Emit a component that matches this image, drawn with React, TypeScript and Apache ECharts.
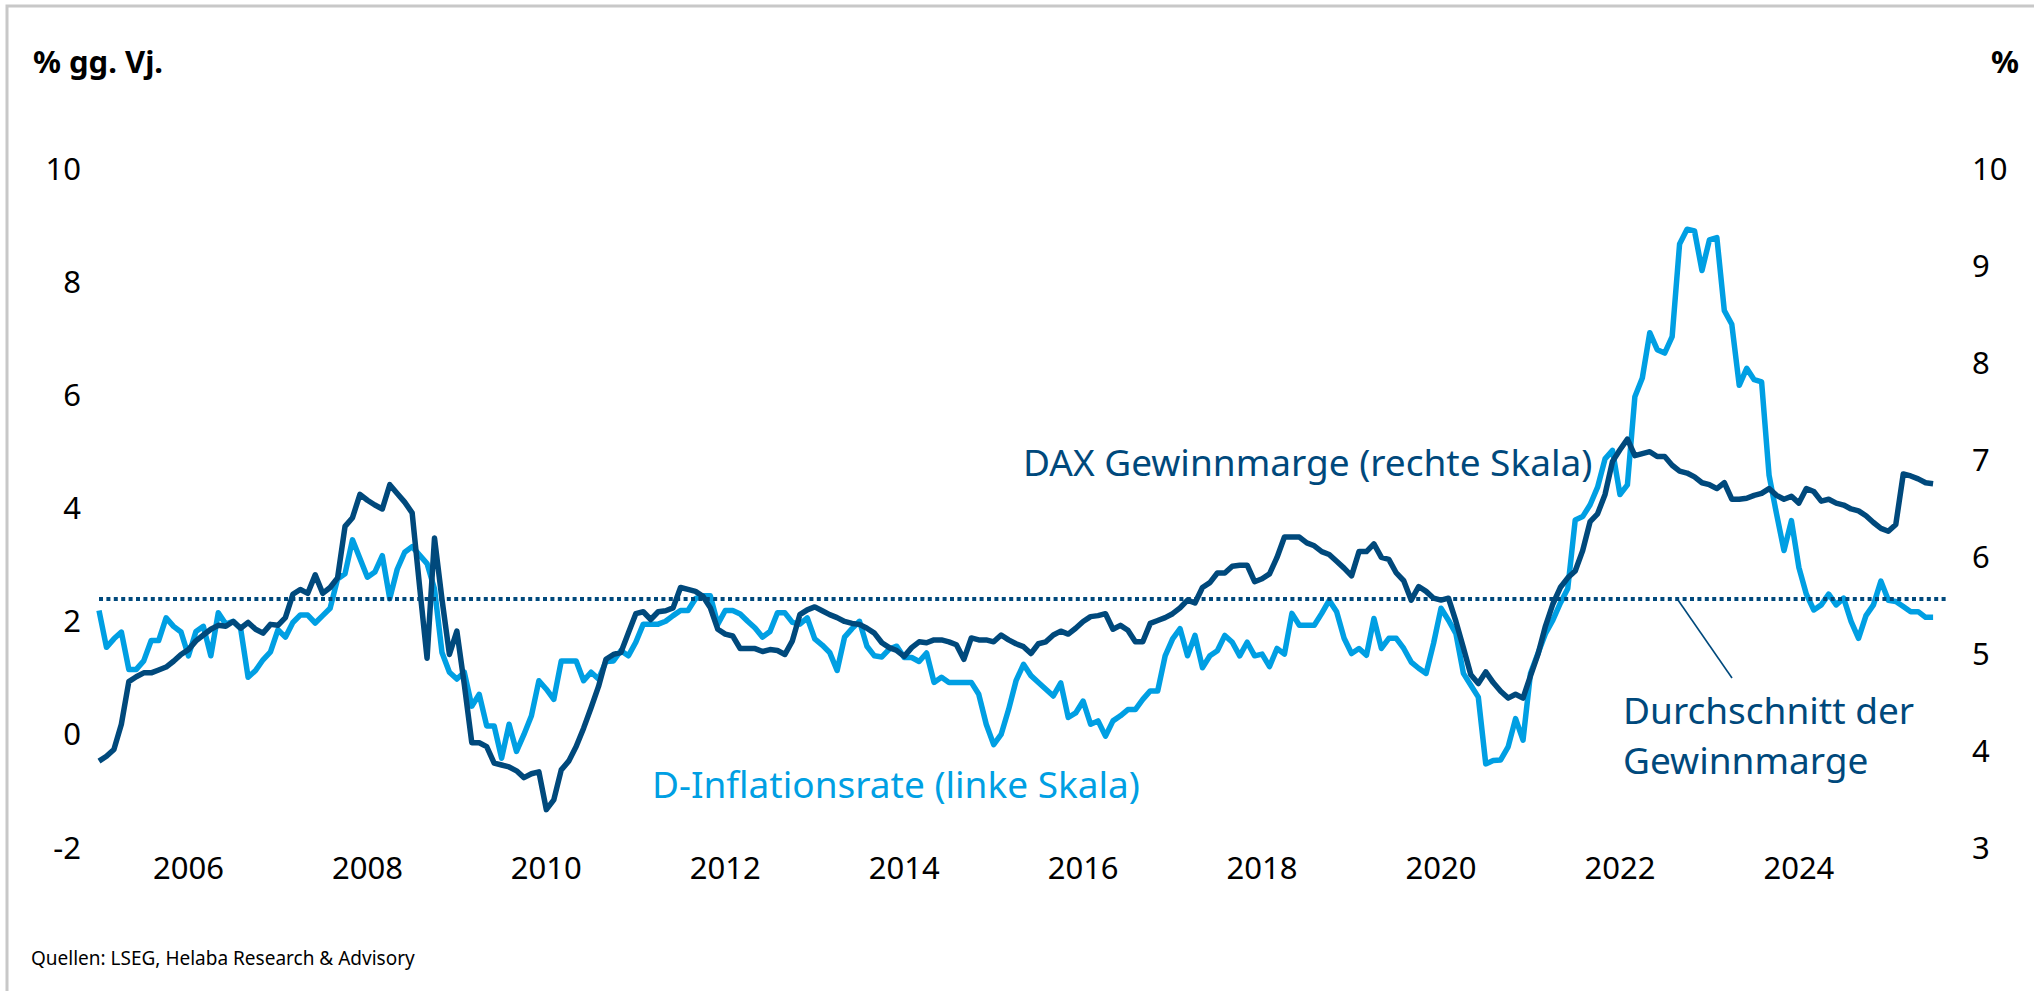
import React, { useEffect, useRef } from "react";
import * as echarts from "echarts";

// ---- Data (monthly, Jan 2005 – Jul 2025) ----
const startYear = 2005;
const categoryCount = 249; // Jan 2005 .. Sep 2025 (axis extends slightly past the data)

// D-Inflationsrate, % gg. Vj. (left scale)
const inflation2005to2009 = [
  2.17, 1.52, 1.67, 1.79, 1.13, 1.13, 1.28, 1.64, 1.64, 2.04, 1.89, 1.79,
  1.37, 1.8, 1.89, 1.37, 2.13, 1.93, 1.98, 1.85, 0.99, 1.11, 1.3, 1.44,
  1.83, 1.7, 1.96, 2.09, 2.09, 1.95, 2.08, 2.21, 2.73, 2.82, 3.42, 3.09,
  2.76, 2.85, 3.14, 2.38, 2.9, 3.2, 3.3, 3.15, 3.0, 2.55, 1.43, 1.08,
  0.96, 1.08, 0.48, 0.69, 0.13, 0.13, -0.44, 0.16, -0.32, -0.02, 0.31, 0.93,
];
const inflation2010to2014 = [
  0.78, 0.6, 1.28, 1.28, 1.28, 0.93, 1.08, 0.96, 1.27, 1.28, 1.46, 1.37,
  1.61, 1.93, 1.93, 1.93, 1.98, 2.08, 2.17, 2.17, 2.38, 2.43, 2.43, 1.93,
  2.17, 2.17, 2.11, 1.98, 1.86, 1.7, 1.8, 2.13, 2.13, 1.96, 1.93, 2.04,
  1.67, 1.56, 1.43, 1.11, 1.7, 1.85, 1.98, 1.54, 1.37, 1.35, 1.49, 1.54,
  1.34, 1.34, 1.27, 1.42, 0.9, 0.99, 0.9, 0.9, 0.9, 0.9, 0.69, 0.16,
];
const inflation2015to2019 = [
  -0.2, -0.02, 0.42, 0.93, 1.22, 1.02, 0.9, 0.78, 0.66, 0.89, 0.28, 0.36,
  0.57, 0.16, 0.22, -0.05, 0.22, 0.31, 0.42, 0.42, 0.6, 0.75, 0.75, 1.37,
  1.67, 1.85, 1.37, 1.73, 1.16, 1.37, 1.46, 1.73, 1.61, 1.37, 1.61, 1.37,
  1.4, 1.18, 1.5, 1.4, 2.12, 1.91, 1.91, 1.91, 2.12, 2.35, 2.15, 1.68,
  1.41, 1.5, 1.38, 2.03, 1.5, 1.68, 1.68, 1.5, 1.26, 1.15, 1.06, 1.59,
];
const inflation2020to2025 = [
  2.21, 2.0, 1.76, 1.06, 0.85, 0.64, -0.54, -0.48, -0.47, -0.24, 0.26, -0.12,
  1.06, 1.41, 1.76, 2.0, 2.3, 2.56, 3.77, 3.83, 4.04, 4.35, 4.85, 5.0,
  4.22, 4.39, 5.95, 6.28, 7.08, 6.78, 6.72, 7.01, 8.65, 8.91, 8.88, 8.18,
  8.72, 8.76, 7.47, 7.23, 6.15, 6.45, 6.25, 6.21, 4.56, 3.88, 3.23, 3.76,
  2.93, 2.46, 2.18, 2.27, 2.46, 2.27, 2.39, 1.98, 1.68, 2.08, 2.27, 2.69,
  2.35, 2.33, 2.24, 2.15, 2.15, 2.05, 2.05,
];

// DAX Gewinnmarge, % (right scale)
const margin2005to2009 = [
  3.88, 3.93, 4.0, 4.26, 4.7, 4.75, 4.79, 4.79, 4.82, 4.85, 4.91, 4.98,
  5.03, 5.12, 5.18, 5.24, 5.28, 5.27, 5.32, 5.25, 5.31, 5.24, 5.2, 5.29,
  5.28, 5.36, 5.6, 5.65, 5.61, 5.8, 5.61, 5.67, 5.77, 6.3, 6.39, 6.63,
  6.57, 6.52, 6.48, 6.73, 6.64, 6.55, 6.44, 5.68, 4.94, 6.18, 5.55, 4.98,
  5.22, 4.67, 4.07, 4.07, 4.03, 3.86, 3.84, 3.82, 3.78, 3.71, 3.75, 3.77,
];
const margin2010to2014 = [
  3.38, 3.48, 3.79, 3.88, 4.03, 4.22, 4.43, 4.65, 4.93, 4.98, 5.0, 5.2,
  5.4, 5.42, 5.34, 5.42, 5.43, 5.46, 5.67, 5.65, 5.63, 5.58, 5.46, 5.24,
  5.19, 5.17, 5.04, 5.04, 5.04, 5.01, 5.03, 5.02, 4.98, 5.12, 5.39, 5.44,
  5.47, 5.43, 5.39, 5.36, 5.32, 5.3, 5.29, 5.25, 5.2, 5.1, 5.05, 5.02,
  4.96, 5.05, 5.11, 5.1, 5.13, 5.13, 5.11, 5.08, 4.93, 5.15, 5.13, 5.13,
];
const margin2015to2019 = [
  5.11, 5.18, 5.13, 5.09, 5.06, 4.99, 5.09, 5.11, 5.18, 5.22, 5.19, 5.25,
  5.32, 5.37, 5.38, 5.4, 5.24, 5.28, 5.23, 5.11, 5.11, 5.3, 5.33, 5.36,
  5.4, 5.46, 5.54, 5.51, 5.67, 5.72, 5.82, 5.82, 5.89, 5.9, 5.9, 5.73,
  5.76, 5.81, 5.98, 6.19, 6.19, 6.19, 6.13, 6.1, 6.04, 6.01, 5.94, 5.87,
  5.79, 6.04, 6.04, 6.12, 5.98, 5.96, 5.82, 5.74, 5.54, 5.68, 5.63, 5.56,
];
const margin2020to2025 = [
  5.54, 5.56, 5.32, 5.05, 4.77, 4.68, 4.8, 4.69, 4.6, 4.53, 4.57, 4.53,
  4.76, 4.98, 5.27, 5.5, 5.67, 5.77, 5.84, 6.05, 6.35, 6.43, 6.63, 6.97,
  7.09, 7.2, 7.03, 7.05, 7.07, 7.02, 7.02, 6.93, 6.87, 6.85, 6.81, 6.75,
  6.73, 6.69, 6.75, 6.58, 6.58, 6.59, 6.62, 6.64, 6.69, 6.62, 6.58, 6.61,
  6.54, 6.69, 6.66, 6.56, 6.58, 6.54, 6.52, 6.48, 6.46, 6.41, 6.34, 6.28,
  6.25, 6.32, 6.84, 6.82, 6.79, 6.75, 6.74,
];

// Average of the profit margin (dotted line, right scale)
const averageMargin = 5.55;

// Axis ticks
const leftAxis = { min: -2, max: 10, interval: 2 };
const rightAxis = { min: 3, max: 10, interval: 1 };

// Texts
const leftUnit = "% gg. Vj.";
const rightUnit = "%";
const marginLabel = "DAX Gewinnmarge (rechte Skala)";
const inflationLabel = "D-Inflationsrate (linke Skala)";
const averageLabelLines = ["Durchschnitt der", "Gewinnmarge"];
const sourceText = "Quellen: LSEG, Helaba Research & Advisory";

const inflation = [
  ...inflation2005to2009,
  ...inflation2010to2014,
  ...inflation2015to2019,
  ...inflation2020to2025,
];
const profitMargin = [
  ...margin2005to2009,
  ...margin2010to2014,
  ...margin2015to2019,
  ...margin2020to2025,
];

const months: string[] = [];
for (let k = 0; k < categoryCount; k++) {
  const y = startYear + Math.floor(k / 12);
  const m = (k % 12) + 1;
  months.push(`${y}-${m < 10 ? "0" + m : m}`);
}

const DARK = "#00497c";
const LIGHT = "#009fe3";
const FONT = "Noto Sans";

export default function App() {
  const ref = useRef<HTMLDivElement>(null);

  useEffect(() => {
    if (!ref.current) return;
    const chart = echarts.init(ref.current, null, { renderer: "svg" });

    const option: any = {
      animation: false,
      backgroundColor: "#ffffff",
      grid: { left: 99, top: 167.5, width: 1849, height: 679, containLabel: false },
      xAxis: {
        type: "category",
        data: months,
        boundaryGap: false,
        axisLine: { show: false },
        axisTick: { show: false },
        splitLine: { show: false },
        axisLabel: {
          interval: (_i: number, v: string) =>
            v.endsWith("-01") && Number(v.slice(0, 4)) % 2 === 0,
          formatter: (v: string) => v.slice(0, 4),
          fontFamily: FONT,
          fontSize: 31,
          color: "#000",
          margin: 5,
        },
      },
      yAxis: [
        {
          type: "value",
          position: "left",
          ...leftAxis,
          axisLine: { show: false },
          axisTick: { show: false },
          splitLine: { show: false },
          axisLabel: { fontFamily: FONT, fontSize: 31, color: "#000", margin: 18 },
        },
        {
          type: "value",
          position: "right",
          ...rightAxis,
          axisLine: { show: false },
          axisTick: { show: false },
          splitLine: { show: false },
          axisLabel: { fontFamily: FONT, fontSize: 31, color: "#000", margin: 24 },
        },
      ],
      series: [
        {
          name: "D-Inflationsrate",
          type: "line",
          yAxisIndex: 0,
          data: inflation,
          symbol: "none",
          lineStyle: { color: LIGHT, width: 5.5, join: "round" },
          z: 2,
        },
        {
          name: "DAX Gewinnmarge",
          type: "line",
          yAxisIndex: 1,
          data: profitMargin,
          symbol: "none",
          lineStyle: { color: DARK, width: 5.5, join: "round" },
          z: 3,
          markLine: {
            silent: true,
            symbol: ["none", "none"],
            label: { show: false },
            lineStyle: { color: DARK, width: 4, type: [4, 3.4] },
            data: [{ yAxis: averageMargin }],
          },
        },
      ],
      graphic: [
        {
          type: "rect",
          silent: true,
          z: -10,
          shape: { x: 7, y: 6, width: 2300, height: 1300 },
          style: { fill: "none", stroke: "#c8c8c8", lineWidth: 3 },
        },
        {
          type: "text",
          x: 33,
          y: 61,
          style: {
            text: leftUnit,
            fontFamily: FONT,
            fontWeight: "bold",
            fontSize: 31,
            fill: "#000",
            textAlign: "left",
            textVerticalAlign: "middle",
          },
        },
        {
          type: "text",
          x: 2019,
          y: 61,
          style: {
            text: rightUnit,
            fontFamily: FONT,
            fontWeight: "bold",
            fontSize: 31,
            fill: "#000",
            textAlign: "right",
            textVerticalAlign: "middle",
          },
        },
        {
          type: "text",
          x: 1023,
          y: 461,
          style: {
            text: marginLabel,
            fontFamily: FONT,
            fontSize: 37,
            fill: DARK,
            textAlign: "left",
            textVerticalAlign: "middle",
          },
        },
        {
          type: "text",
          x: 652,
          y: 783,
          style: {
            text: inflationLabel,
            fontFamily: FONT,
            fontSize: 37,
            fill: LIGHT,
            textAlign: "left",
            textVerticalAlign: "middle",
          },
        },
        {
          type: "text",
          x: 1623,
          y: 709.5,
          style: {
            text: averageLabelLines[0],
            fontFamily: FONT,
            fontSize: 37,
            fill: DARK,
            textAlign: "left",
            textVerticalAlign: "middle",
          },
        },
        {
          type: "text",
          x: 1623,
          y: 759.5,
          style: {
            text: averageLabelLines[1],
            fontFamily: FONT,
            fontSize: 37,
            fill: DARK,
            textAlign: "left",
            textVerticalAlign: "middle",
          },
        },
        {
          type: "line",
          silent: true,
          shape: { x1: 1678, y1: 600, x2: 1732, y2: 678 },
          style: { stroke: DARK, lineWidth: 1.6 },
        },
        {
          type: "text",
          x: 31,
          y: 958,
          style: {
            text: sourceText,
            fontFamily: FONT,
            fontSize: 19,
            fill: "#000",
            textAlign: "left",
            textVerticalAlign: "middle",
          },
        },
      ],
    };

    chart.setOption(option);
    return () => chart.dispose();
  }, []);

  return (
    <div
      ref={ref}
      style={{
        position: "fixed",
        left: 0,
        top: 0,
        width: 2034,
        height: 991,
        background: "#fff",
      }}
    />
  );
}
